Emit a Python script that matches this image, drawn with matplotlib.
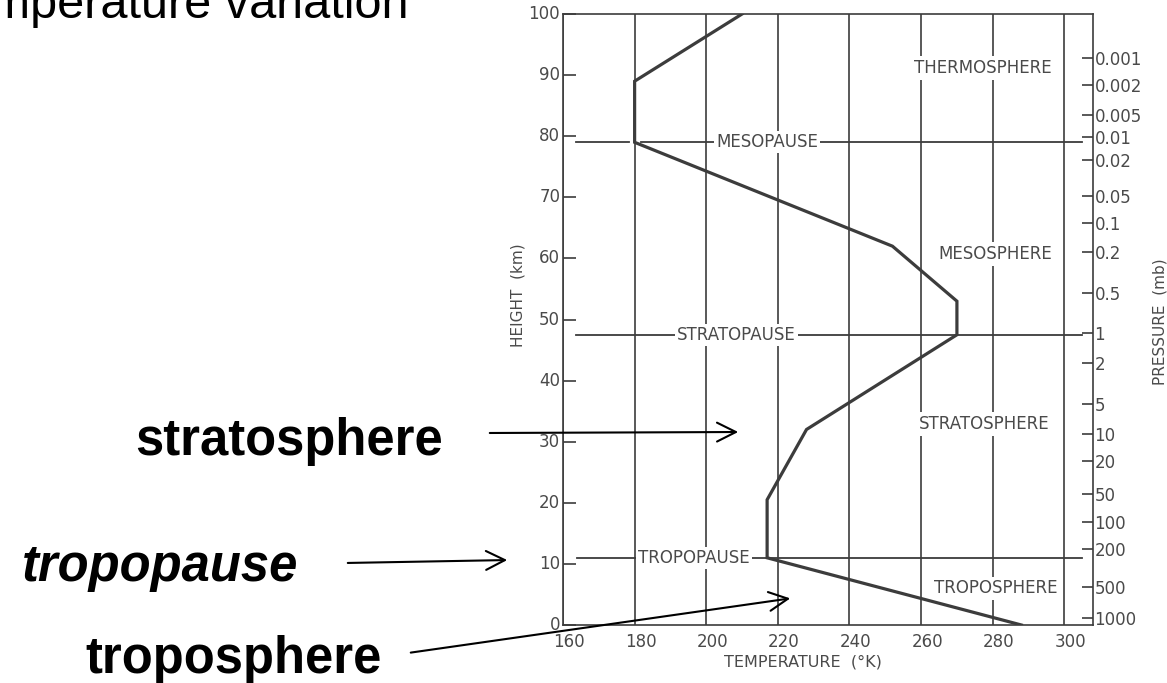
import matplotlib
matplotlib.use("Agg")
import matplotlib.pyplot as plt
from matplotlib.transforms import ScaledTranslation

# temperature profile (K) vs height (km)
temps = [288, 217, 217, 228, 270, 270, 252, 180, 180, 210]
heights = [0, 11, 20.5, 32, 47.5, 53, 62, 79, 89, 100]

# right axis : pressure (mb)
p_labels = ['0.001', '0.002', '0.005', '0.01', '0.02', '0.05', '0.1', '0.2', '0.5', '1',
            '2', '5', '10', '20', '50', '100', '200', '500', '1000']
p_heights = [92.8, 88.4, 83.5, 79.9, 76.1, 70.2, 65.8, 61.1, 54.3, 47.8,
             42.9, 36.2, 31.3, 26.8, 21.4, 16.9, 12.4, 6.2, 1.1]

x_ticks = [160, 180, 200, 220, 240, 260, 280, 300]
y_ticks = [0, 10, 20, 30, 40, 50, 60, 70, 80, 90, 100]

# pause lines : name, height, label x, segments
pauses = [
    ("MESOPAUSE", 79, 217, [(163.5, 178.3), (181.8, 305)]),
    ("STRATOPAUSE", 47.5, 208.5, [(163.5, 305)]),
    ("TROPOPAUSE", 11, 196.5, [(164, 305)]),
]
layers = [("THERMOSPHERE", 277.2, 91.2), ("MESOSPHERE", 280.6, 60.7),
          ("STRATOSPHERE", 277.5, 32.9), ("TROPOSPHERE", 280.8, 6.0)]

W, H = 1167, 683
ink = "#3c3c3c"
txt = "#4a4a4a"

fig = plt.figure(figsize=(W / 100, H / 100), dpi=100)
ax = fig.add_axes([563 / W, 1 - 625 / H, (1093 - 563) / W, (625 - 14) / H])

ax.plot(temps, heights, color=ink, lw=2.3, zorder=5, solid_joinstyle='miter')

for name, h, lx, segs in pauses:
    for a, b in segs:
        ax.plot([a, b], [h, h], color=ink, lw=1.3, zorder=3)
    ax.text(lx, h, name, ha='center', va='center', fontsize=12, color=txt, zorder=4,
            bbox=dict(facecolor='white', edgecolor='none', pad=1.5))

for name, x, y in layers:
    ax.text(x, y, name, ha='center', va='center', fontsize=12, color=txt, zorder=4,
            bbox=dict(facecolor='white', edgecolor='none', pad=2))

ax.set_xlim(160, 308)
ax.set_ylim(0, 100)
ax.set_xticks(x_ticks)
ax.set_yticks(y_ticks)
ax.tick_params(axis='x', length=0, pad=6, labelsize=12, labelcolor=txt)
ax.tick_params(axis='y', direction='in', length=9, width=1.2, color=ink, pad=2,
               labelsize=12, labelcolor=txt)
# the scanned labels sit a little right of their gridlines
for lab in ax.get_xticklabels():
    lab.set_transform(lab.get_transform() + ScaledTranslation(6 / 100, 0, fig.dpi_scale_trans))
for lab in ax.get_yticklabels():
    lab.set_transform(lab.get_transform() + ScaledTranslation(0, 2 / 100, fig.dpi_scale_trans))
ax.xaxis.grid(True, color=ink, lw=1.2)
ax.set_axisbelow(True)
for s in ax.spines.values():
    s.set_color(ink)
    s.set_linewidth(1.2)

ax2 = ax.twinx()
ax2.set_ylim(0, 100)
ax2.set_yticks(p_heights)
ax2.set_yticklabels(p_labels)
ax2.tick_params(axis='y', direction='in', length=8, width=1.2, color=ink, pad=1,
                labelsize=12, labelcolor=txt)
for s in ax2.spines.values():
    s.set_visible(False)

fig.text(518 / W, 1 - 295 / H, "HEIGHT  (km)", rotation=90, ha='center', va='center',
         fontsize=11, color=txt)
fig.text(1160 / W, 1 - 322 / H, "PRESSURE  (mb)", rotation=90, ha='center', va='center',
         fontsize=11, color=txt)
fig.text(803 / W, 1 - 662 / H, "TEMPERATURE  (°K)", ha='center', va='center',
         fontsize=11.5, color=txt)

# slide overlay
fig.text(-62 / W, 1 - 18 / H, "Temperature variation", ha='left', va='baseline',
         fontsize=35, family='Liberation Sans')
fig.text(135 / W, 1 - 455 / H, "stratosphere", ha='left', va='baseline',
         fontsize=36.5, family='Liberation Sans', weight='bold')
fig.text(22 / W, 1 - 581 / H, "tropopause", ha='left', va='baseline',
         fontsize=36.5, family='Liberation Sans', weight='bold', style='italic')
fig.text(85 / W, 1 - 673 / H, "troposphere", ha='left', va='baseline',
         fontsize=36.5, family='Liberation Sans', weight='bold')

arrows = [((487, 433), (741, 432)), ((345, 563), (510, 560)), ((408, 653), (793, 598))]
for (x0, y0), (x1, y1) in arrows:
    fig.add_artist(matplotlib.patches.FancyArrowPatch(
        (x0 / W, 1 - y0 / H), (x1 / W, 1 - y1 / H), transform=fig.transFigure,
        arrowstyle='->', mutation_scale=34, lw=1.5, color='black'))

fig.savefig("out.png", dpi=100)
